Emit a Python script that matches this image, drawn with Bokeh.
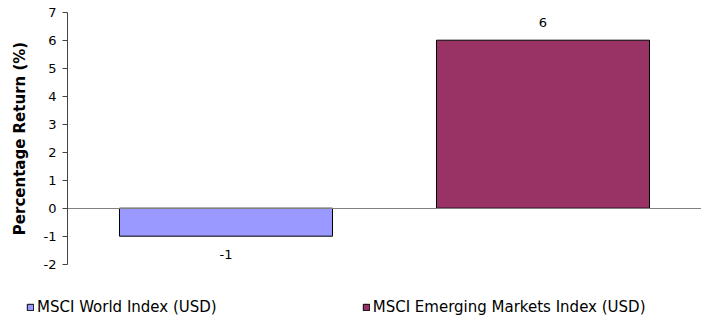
from bokeh.plotting import figure
from bokeh.models import ColumnDataSource, Range1d, Legend, LegendItem
from bokeh.core.properties import value
from bokeh.embed import file_html
from bokeh.resources import INLINE

# Chart data
indices = ["MSCI World Index (USD)", "MSCI Emerging Markets Index (USD)"]
returns = [-1, 6]
bar_colors = ["#9999FF", "#993366"]
y_ticks = [-2, -1, 0, 1, 2, 3, 4, 5, 6, 7]

FONT = "DejaVu Sans"
W, H = 701, 322
PLOT_LEFT, PLOT_TOP = 67, 11.7     # pixel position of the value axis and of its top tick
PX_PER_UNIT = 28                   # vertical pixels per percentage point

# one category slot per index, bars centred in their slot
xpos = [i + 0.5 for i in range(len(indices))]
n_slots = len(indices)
slot_px = (W - PLOT_LEFT) / n_slots

source = ColumnDataSource(dict(
    x=xpos,
    name=indices,
    ret=returns,
    color=bar_colors,
    label=[str(v) for v in returns],
    offset=[-18 if v >= 0 else 18 for v in returns],
))

y_top = max(y_ticks) + PLOT_TOP / PX_PER_UNIT
p = figure(
    width=W, height=H,
    x_range=Range1d(-PLOT_LEFT / slot_px, n_slots),
    y_range=Range1d(y_top - H / PX_PER_UNIT, y_top),
    output_backend="svg", toolbar_location=None,
    min_border=0,
)
p.outline_line_color = None
p.grid.visible = False
p.background_fill_color = "white"

# value axis, crossing the category axis at the left edge of the plot area
p.yaxis.fixed_location = 0
p.yaxis.bounds = (min(y_ticks), max(y_ticks))
p.yaxis.ticker = y_ticks
p.yaxis.major_label_overrides = {t: str(t) for t in y_ticks}
p.yaxis.axis_label = "Percentage Return (%)"
p.yaxis.axis_label_text_font = FONT
p.yaxis.axis_label_text_font_style = "bold"
p.yaxis.axis_label_text_font_size = "15px"
p.yaxis.axis_label_text_color = "#000000"
p.yaxis.axis_label_standoff = 12
p.yaxis.major_label_text_font = FONT
p.yaxis.major_label_text_font_size = "13px"
p.yaxis.major_label_text_color = "#000000"
p.yaxis.major_label_standoff = 6
p.yaxis.major_tick_in = 0
p.yaxis.major_tick_out = 5
p.yaxis.minor_tick_line_color = None
p.yaxis.axis_line_color = "#444444"
p.yaxis.major_tick_line_color = "#444444"

# category axis: a plain line at zero across the plot area
p.xaxis.fixed_location = 0
p.xaxis.bounds = (0, n_slots)
p.xaxis.ticker = []
p.xaxis.major_tick_line_color = None
p.xaxis.minor_tick_line_color = None
p.xaxis.axis_line_color = "#808080"

bars = p.vbar(x="x", top="ret", bottom=0, width=0.672, source=source,
              fill_color="color", line_color="#000000", line_width=1)

# value labels above / below each bar
p.text(x="x", y="ret", text="label", source=source,
       y_offset="offset", text_align="center", text_baseline="middle",
       text_font=value(FONT), text_font_size="13px", text_color="#000000")

legend = Legend(
    items=[LegendItem(label=n, renderers=[bars], index=i) for i, n in enumerate(indices)],
    orientation="horizontal",
    location=(26, 6),
    glyph_width=8, glyph_height=8,
    label_standoff=3,
    spacing=145,
    padding=0, margin=0,
    border_line_color=None,
    background_fill_alpha=0,
    label_text_font=FONT,
    label_text_font_size="15px",
    label_text_color="#000000",
)
p.add_layout(legend)

open("out.html", "w").write(file_html(p, INLINE))
